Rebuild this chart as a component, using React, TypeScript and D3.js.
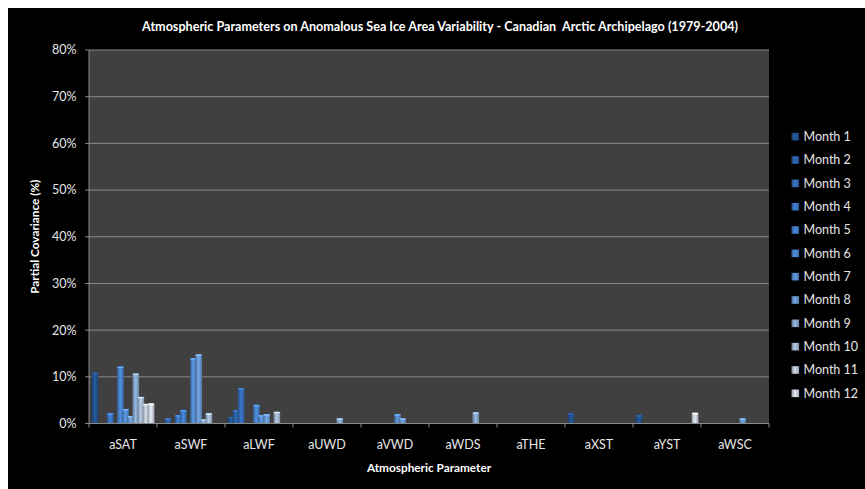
import React from "react";
import * as d3 from "d3";

const categories = ["aSAT", "aSWF", "aLWF", "aUWD", "aVWD", "aWDS", "aTHE", "aXST", "aYST", "aWSC"];
const months = ["Month 1", "Month 2", "Month 3", "Month 4", "Month 5", "Month 6", "Month 7", "Month 8", "Month 9", "Month 10", "Month 11", "Month 12"];

// Partial covariance (%) per month, across the 10 categories
const month1 = [10.9, 0, 1.4, 0, 0, 0, 0, 2.2, 1.8, 0];
const month2 = [0, 1.1, 2.9, 0, 0, 0, 0, 0, 0, 0];
const month3 = [0, 0, 7.6, 0, 0, 0, 0, 0, 0, 0];
const month4 = [2.2, 1.8, 0, 0, 0, 0, 0, 0, 0, 0];
const month5 = [0, 2.9, 0, 0, 0, 0, 0, 0, 0, 0];
const month6 = [12.2, 0, 4.0, 0, 0, 0, 0, 0, 0, 0];
const month7 = [3.1, 14.0, 1.8, 0, 2.0, 0, 0, 0, 0, 0];
const month8 = [1.6, 14.8, 2.0, 0, 1.1, 0, 0, 0, 0, 1.1];
const month9 = [10.7, 0.9, 0, 1.1, 0, 2.4, 0, 0, 0, 0];
const month10 = [5.7, 2.2, 2.5, 0, 0, 0, 0, 0, 0, 0];
const month11 = [4.2, 0, 0, 0, 0, 0, 0, 0, 0, 0];
const month12 = [4.3, 0, 0, 0, 0, 0, 0, 0, 2.3, 0];
const series = [month1, month2, month3, month4, month5, month6, month7, month8, month9, month10, month11, month12];

const yTicks = [0, 10, 20, 30, 40, 50, 60, 70, 80];

const colors = ["#22508a", "#2c5fa2", "#3468b2", "#3a72c0", "#4079c4", "#4780c8", "#5288c8", "#6694cb", "#84a2c8", "#9fb2cc", "#b9c2d0", "#c9cfd8"];

const W = 865, H = 489;
const plotL = 89, plotR = 769, plotT = 50, plotB = 423.5;
const FONT = "Lato, 'Open Sans', sans-serif";

export default function App() {
  const x0 = d3.scaleBand().domain(categories).range([plotL, plotR]).padding(0);
  const x1 = d3.scaleBand().domain(months).range([2.6, 2.6 + 61.2]).padding(0);
  const barW = x1.step() * 1.31;
  const y = d3.scaleLinear().domain([0, 80]).range([plotB, plotT]);

  return (
    <svg width={W} height={H} style={{ position: "absolute", left: 0, top: 0 }}>
      <defs>
        {colors.map((c, i) => {
          const col = d3.color(c)!;
          return (
            <linearGradient key={i} id={`g${i}`} x1="0" x2="1" y1="0" y2="0">
              <stop offset="0%" stopColor={col.darker(0.9).toString()} />
              <stop offset="45%" stopColor={col.brighter(0.35).toString()} />
              <stop offset="60%" stopColor={col.brighter(0.2).toString()} />
              <stop offset="100%" stopColor={col.darker(0.6).toString()} />
            </linearGradient>
          );
        })}
      </defs>
      <rect x={8} y={8} width={W - 8} height={H - 8} fill="#000" />
      <rect x={plotL} y={plotT} width={plotR - plotL} height={plotB - plotT} fill="#404040" />
      {yTicks.map((t) => (
        <g key={t}>
          {t > 0 && <line x1={plotL} x2={plotR} y1={y(t)} y2={y(t)} stroke="#8a8a8a" strokeWidth={1} />}
          <line x1={plotL - 4} x2={plotL} y1={y(t)} y2={y(t)} stroke="#8a8a8a" strokeWidth={1} />
          <text x={76.5} y={y(t)} dy="0.35em" textAnchor="end" fill="#e6e6e6" fontFamily={FONT} fontSize={12.5}>
            {t}%
          </text>
        </g>
      ))}
      {series.map((vals, mi) =>
        vals.map((v, ci) =>
          v > 0 ? (
            <g key={`${mi}-${ci}`}>
              <rect
                x={x0(categories[ci])! + x1(months[mi])!}
                y={y(v)}
                width={barW}
                height={plotB - y(v)}
                fill={`url(#g${mi})`}
              />
              <rect
                x={x0(categories[ci])! + x1(months[mi])! + 0.5}
                y={y(v)}
                width={barW - 1}
                height={1.5}
                fill={d3.color(colors[mi])!.brighter(0.8).toString()}
              />
            </g>
          ) : null
        )
      )}
      <line x1={plotL} x2={plotL} y1={plotT} y2={plotB} stroke="#8a8a8a" />
      <line x1={plotL} x2={plotR} y1={plotB} y2={plotB} stroke="#8a8a8a" />
      {categories.concat([""]).map((c, i) => {
        const xx = i < categories.length ? x0(c)! : plotR;
        return <line key={`t${i}`} x1={xx} x2={xx} y1={plotB} y2={plotB + 4} stroke="#8a8a8a" />;
      })}
      {categories.map((c) => (
        <text key={c} x={x0(c)! + x0.bandwidth() / 2} y={445} dy="0.35em" textAnchor="middle" fill="#e6e6e6" fontFamily={FONT} fontSize={12.5}>
          {c}
        </text>
      ))}
      <text x={440} y={27} dy="0.35em" textAnchor="middle" fill="#fff" fontFamily={FONT} fontSize={12.6} fontWeight="bold">
        Atmospheric Parameters on Anomalous Sea Ice Area Variability - Canadian{"\u00a0"} Arctic Archipelago (1979-2004)
      </text>
      <text x={429} y={468} dy="0.35em" textAnchor="middle" fill="#fff" fontFamily={FONT} fontSize={11.8} fontWeight="bold">
        Atmospheric Parameter
      </text>
      <text transform={`translate(35,${(plotT + plotB) / 2}) rotate(-90)`} dy="0.35em" textAnchor="middle" fill="#fff" fontFamily={FONT} fontSize={11.8} fontWeight="bold">
        Partial Covariance (%)
      </text>
      {months.map((m, i) => {
        const ly = 136.7 + i * 23.33;
        return (
          <g key={m}>
            <rect x={791.5} y={ly - 3.8} width={7.6} height={7.6} fill={`url(#g${i})`} />
            <text x={803.5} y={ly} dy="0.35em" fill="#e6e6e6" fontFamily={FONT} fontSize={12.5}>
              {m}
            </text>
          </g>
        );
      })}
    </svg>
  );
}
